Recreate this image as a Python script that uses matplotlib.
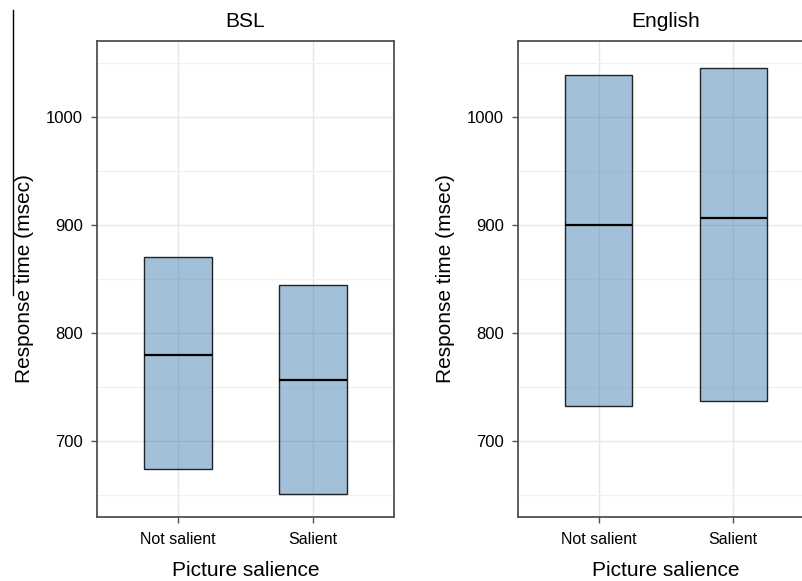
import numpy as np
import matplotlib.pyplot as plt
from matplotlib.colors import to_rgba
from matplotlib.lines import Line2D
from matplotlib.ticker import MultipleLocator

plt.rcParams['font.family'] = ['Liberation Sans', 'DejaVu Sans']

categories = ["Not salient", "Salient"]
panels = ["BSL", "English"]

# lower edge, median and upper edge of each box (msec)
bsl_low = [674, 651]
bsl_mid = [780, 757]
bsl_high = [870, 844]
eng_low = [733, 737]
eng_mid = [900, 906]
eng_high = [1039, 1045]

data = {
    "BSL": (bsl_low, bsl_mid, bsl_high),
    "English": (eng_low, eng_mid, eng_high),
}

fig = plt.figure(figsize=(8.02, 5.81), dpi=100)
ax1 = fig.add_axes([97 / 802, 64 / 581, 297 / 802, 476 / 581])
ax2 = fig.add_axes([518 / 802, 64 / 581, 296 / 802, 476 / 581])

fill = to_rgba("steelblue", 0.5)
grid_col = "#e6e6e6"
spine_col = "#505050"

for ax, name in zip([ax1, ax2], panels):
    low, mid, high = data[name]
    x = np.arange(len(categories))
    low = np.array(low)
    high = np.array(high)
    ax.bar(x, high - low, bottom=low, width=0.5, color=fill,
           edgecolor="#222222", linewidth=1.0, zorder=3)
    ax.hlines(mid, x - 0.25, x + 0.25, color="black", linewidth=1.6, zorder=4)

    ax.set_xlim(-0.6, 1.6)
    ax.set_ylim(630, 1070)
    ax.set_xticks(x)
    ax.set_xticklabels(categories)
    ax.yaxis.set_major_locator(MultipleLocator(100))
    ax.yaxis.set_minor_locator(MultipleLocator(50))
    ax.grid(True, which="major", color=grid_col, linewidth=1.0, zorder=0)
    ax.grid(True, which="minor", axis="y", color="#f0f0f0", linewidth=0.8, zorder=0)
    ax.set_axisbelow(True)
    ax.tick_params(axis="both", which="major", length=4, width=1,
                   color=spine_col, labelsize=12, pad=6)
    ax.tick_params(axis="y", which="minor", length=0)
    ax.tick_params(axis="x", pad=7, labelsize=11.5)
    for sp in ax.spines.values():
        sp.set_color(spine_col)
        sp.set_linewidth(1.3)

    ax.set_title(name, fontsize=15, pad=10)
    ax.set_xlabel("Picture salience", fontsize=15, labelpad=10)
    ax.set_ylabel("Response time (msec)", fontsize=15, labelpad=9)

# thin rule at the left edge of the page
fig.add_artist(Line2D([13 / 802, 13 / 802], [1 - 10 / 581, 1 - 295 / 581],
                      color="black", linewidth=1.0))

fig.savefig("out.png", dpi=100)
